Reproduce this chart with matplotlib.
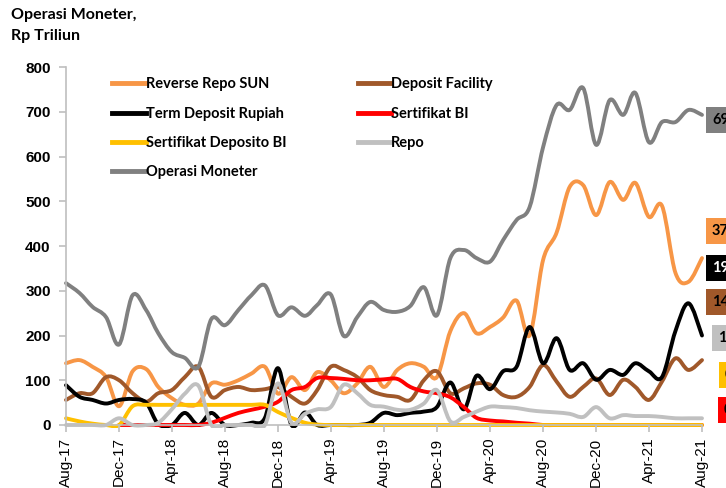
import numpy as np
import pandas as pd
import matplotlib
matplotlib.use("Agg")
import matplotlib.pyplot as plt
import matplotlib.dates as mdates
from matplotlib.lines import Line2D
from matplotlib.path import Path
from matplotlib.patches import PathPatch
from matplotlib.transforms import Bbox, TransformedBbox

# monthly, Aug-17 .. Aug-21
months = pd.date_range("2017-08-01", "2021-08-01", freq="MS")

rr_sun = [138, 145, 130, 107, 42, 120, 125, 85, 60, 45, 48, 93, 90, 100, 115, 130,
          70, 107, 78, 118, 100, 71, 93, 130, 85, 123, 138, 130, 107, 210, 250, 205,
          219, 240, 278, 200, 369, 430, 532, 536, 469, 543, 503, 541, 465, 490, 340,
          320, 373]
deposit_facility = [56, 71, 71, 107, 100, 71, 52, 71, 78, 107, 130, 63, 78, 85, 78,
                    80, 85, 63, 48, 78, 130, 123, 107, 78, 67, 63, 56, 100, 120, 71,
                    82, 93, 90, 67, 63, 85, 134, 97, 63, 85, 104, 67, 101, 85, 56, 97,
                    149, 123, 145]
term_deposit = [89, 63, 56, 48, 56, 58, 50, 2, 0, 27, 0, 27, 0, 0, 5, 16, 127, 0, 28,
                0, 0, 0, 0, 5, 27, 22, 27, 30, 40, 95, 35, 110, 80, 120, 130, 219, 138,
                194, 123, 138, 101, 123, 112, 138, 120, 107, 210, 272, 200]
sbi = [np.nan, np.nan, np.nan, np.nan, 0, 0, 0, 0, 0, 0, 0, 5, 16, 27, 34, 41, 52,
       78, 85, 105, 105, 103, 100, 100, 102, 103, 85, 75, 71, 62, 40, 16, 10, 8, 5, 3,
       0, 0, 0, 0, 0, 0, 0, 0, 0, 0, 0, 0, 0]
sdbi = [15, 8, 3, 0, 0, 42, 45, 45, 45, 45, 45, 45, 45, 45, 45, 45, 29, 16, 5, 1, 0,
        0, 0, 0, 0, 0, 0, 0, 0, 0, 0, 0, 0, 0, 0, 0, 0, 0, 0, 0, 0, 0, 0, 0, 0, 0, 0,
        0, 0]
repo = [0, 0, 0, 0, 15, 0, 0, 5, 35, 70, 88, 0, 0, 0, 0, 0, 93, 5, 25, 35, 40, 90,
        71, 45, 41, 34, 34, 48, 78, 8, 18, 30, 41, 40, 38, 33, 30, 28, 25, 18, 40, 15,
        22, 20, 20, 18, 15, 15, 15]
operasi_moneter = [317, 295, 264, 241, 180, 290, 257, 205, 163, 150, 130, 237, 223,
                   257, 290, 312, 245, 263, 244, 268, 292, 199, 241, 275, 257, 253,
                   266, 308, 245, 373, 391, 373, 365, 413, 458, 487, 621, 715, 704,
                   753, 626, 726, 693, 742, 632, 677, 677, 704, 693]

names = ["Reverse Repo SUN", "Deposit Facility", "Term Deposit Rupiah", "Sertifikat BI",
         "Sertifikat Deposito BI", "Repo", "Operasi Moneter"]
series = [rr_sun, deposit_facility, term_deposit, sbi, sdbi, repo, operasi_moneter]
colors = ["#F79646", "#A0582A", "#000000", "#FF0000", "#FFC000", "#C0C0C0", "#808080"]
end_labels = ["373", "145", "195", "0", "0", "15", "693"]


def smooth_path(x, y):
    # excel-like smoothed line: catmull-rom turned into cubic bezier pieces
    x = np.asarray(x, float)
    y = np.asarray(y, float)
    ok = ~np.isnan(y)
    x, y = x[ok], y[ok]
    p = np.column_stack([x, y])
    verts = [p[0]]
    codes = [Path.MOVETO]
    n = len(p)
    for i in range(n - 1):
        p0 = p[i - 1] if i > 0 else p[i]
        p3 = p[i + 2] if i + 2 < n else p[i + 1]
        c1 = p[i] + (p[i + 1] - p0) / 6
        c2 = p[i + 1] - (p3 - p[i]) / 6
        verts += [c1, c2, p[i + 1]]
        codes += [Path.CURVE4] * 3
    return Path(verts, codes)


fig = plt.figure(figsize=(7.26, 4.88), dpi=100)
ax = fig.add_axes([66 / 726, 63 / 488, 636 / 726, 358 / 488])

xnum = mdates.date2num(months)
clip = TransformedBbox(Bbox([[-0.01, -0.009], [1.01, 1.02]]), ax.transAxes)
for name, vals, c in zip(names, series, colors):
    patch = PathPatch(smooth_path(xnum, vals), fill=False, ec=c, lw=2.8,
                      joinstyle="round", capstyle="round")
    ax.add_patch(patch)
    patch.set_clip_box(clip)

ax.set_ylim(0, 800)
ax.set_yticks(range(0, 801, 100))
ax.set_xlim(months[0], months[-1])
ax.xaxis.set_major_locator(mdates.MonthLocator(bymonth=[4, 8, 12]))
ax.xaxis.set_major_formatter(mdates.DateFormatter("%b-%y"))
for lab in ax.get_xticklabels():
    lab.set_rotation(90)
    lab.set_fontfamily("Liberation Sans")
    lab.set_fontsize(11)
for lab in ax.get_yticklabels():
    lab.set_fontfamily("Liberation Sans")
    lab.set_fontweight("bold")
    lab.set_fontsize(11)

for s in ["top", "right"]:
    ax.spines[s].set_visible(False)
for s in ["left", "bottom"]:
    ax.spines[s].set_color("#BFBFBF")
    ax.spines[s].set_linewidth(1.2)
ax.tick_params(axis="both", color="#BFBFBF", length=5, width=1.2)
ax.tick_params(axis="y", pad=6)
ax.tick_params(axis="x", pad=4)

order = ["Reverse Repo SUN", "Term Deposit Rupiah", "Sertifikat Deposito BI",
         "Operasi Moneter", "Deposit Facility", "Sertifikat BI", "Repo"]
col = dict(zip(names, colors))
leg_h = [Line2D([], [], color=col[n], lw=3.5) for n in order]
fig.legend(leg_h, order, loc="upper left", bbox_to_anchor=(105 / 726, 1 - 70 / 488),
           ncol=2, frameon=False, handlelength=2.3, handletextpad=0.0,
           labelspacing=1.05, columnspacing=4.9, borderpad=0,
           prop={"family": "Lato", "weight": "bold", "size": 10.5})

fig.text(11 / 726, 1 - 8 / 488, "Operasi Moneter,\nRp Triliun", ha="left", va="top",
         family="Lato", weight="bold", fontsize=11.5, linespacing=1.6)

# value boxes at the right edge (cut by the image border, as in the source)
box_pos = {"Operasi Moneter": (707, 120), "Reverse Repo SUN": (707, 231),
           "Term Deposit Rupiah": (707, 268), "Deposit Facility": (707, 302),
           "Repo": (713, 338), "Sertifikat Deposito BI": (720, 375),
           "Sertifikat BI": (719, 410)}
for name, c, lab in zip(names, colors, end_labels):
    x, y = box_pos[name]
    fig.text((x + 5) / 726, 1 - y / 488, lab, ha="left", va="center",
             family="Lato", weight="bold", fontsize=10.5,
             color="white" if c == "#000000" else "black",
             bbox=dict(boxstyle="square,pad=0.4", fc=c, ec="none"))

fig.savefig("out.png", dpi=100)
